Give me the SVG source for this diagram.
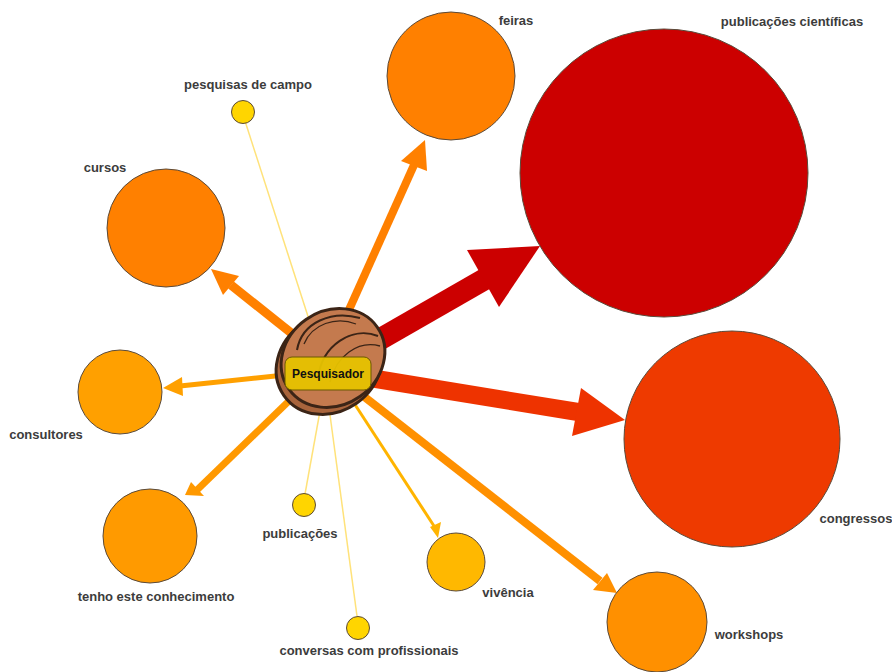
<svg xmlns="http://www.w3.org/2000/svg" width="892" height="672" viewBox="0 0 892 672">
  <style>
    .lbl { font-family: "Liberation Sans", Arial, sans-serif; font-size: 13px; font-weight: bold; fill: #3c3c3c; text-anchor: middle; }
    .node { stroke: #5a4a3a; stroke-width: 1; }
    .thin { stroke: #FFE27A; stroke-width: 1.5; fill: none; }
    .nut { fill: none; stroke: #3B2416; }
  </style>
  <rect width="892" height="672" fill="#ffffff"/>

  <!-- connectors: shafts plus arrowheads -->
  <g id="connectors" stroke-linecap="butt">
    <line class="thin" x1="245" y1="121" x2="314" y2="335"/>
    <line class="thin" x1="322" y1="400" x2="305" y2="494"/>
    <line class="thin" x1="328" y1="400" x2="357" y2="616"/>

    <line x1="370" y1="345" x2="485" y2="279" stroke="#CC0000" stroke-width="22"/>
    <polygon points="540,246 467,250 499,307" fill="#CC0000"/>

    <line x1="370" y1="378" x2="578" y2="412" stroke="#EE3300" stroke-width="18"/>
    <polygon points="625,420 581,388 572,436" fill="#EE3300"/>

    <line x1="348" y1="312" x2="414" y2="165" stroke="#FF8000" stroke-width="8"/>
    <polygon points="425,140 401,161 427,171" fill="#FF8000"/>

    <line x1="300" y1="340" x2="231" y2="285" stroke="#FF8000" stroke-width="9"/>
    <polygon points="211,269 239,276 223,295" fill="#FF8000"/>

    <line x1="285" y1="375" x2="180" y2="386" stroke="#FFA000" stroke-width="5"/>
    <polygon points="163,388 182,377 183,396" fill="#FFA000"/>

    <line x1="292" y1="398" x2="197" y2="490" stroke="#FF9900" stroke-width="7"/>
    <polygon points="185,495 191,482 204,496" fill="#FF9900"/>

    <line x1="352" y1="400" x2="434" y2="526" stroke="#FFB400" stroke-width="3"/>
    <polygon points="438,538 430,527 441,522" fill="#FFB400"/>

    <line x1="362" y1="395" x2="600" y2="581" stroke="#FF9000" stroke-width="8"/>
    <polygon points="617,593 593,590 607,573" fill="#FF9000"/>
  </g>

  <!-- topic nodes -->
  <g id="feiras">
    <circle class="node" cx="451" cy="76" r="64" fill="#FF8000"/>
    <text class="lbl" x="516" y="25">feiras</text>
  </g>
  <g id="publicacoes-cientificas">
    <circle class="node" cx="664" cy="173" r="144" fill="#CC0000"/>
    <text class="lbl" x="792" y="26">publicações científicas</text>
  </g>
  <g id="cursos">
    <circle class="node" cx="166" cy="228" r="59" fill="#FF8000"/>
    <text class="lbl" x="105" y="172">cursos</text>
  </g>
  <g id="pesquisas-de-campo">
    <circle class="node" cx="243" cy="112" r="11.5" fill="#FFD500"/>
    <text class="lbl" x="248" y="89">pesquisas de campo</text>
  </g>
  <g id="consultores">
    <circle class="node" cx="120" cy="392" r="42" fill="#FFA000"/>
    <text class="lbl" x="46" y="439">consultores</text>
  </g>
  <g id="tenho-este-conhecimento">
    <circle class="node" cx="150" cy="536" r="47" fill="#FF9A00"/>
    <text class="lbl" x="156" y="601">tenho este conhecimento</text>
  </g>
  <g id="publicacoes">
    <circle class="node" cx="304" cy="505" r="11.5" fill="#FFD500"/>
    <text class="lbl" x="300" y="538">publicações</text>
  </g>
  <g id="conversas-com-profissionais">
    <circle class="node" cx="358" cy="628" r="11.5" fill="#FFD500"/>
    <text class="lbl" x="369" y="655">conversas com profissionais</text>
  </g>
  <g id="vivencia">
    <circle class="node" cx="456" cy="562" r="29" fill="#FFB800"/>
    <text class="lbl" x="508" y="597">vivência</text>
  </g>
  <g id="workshops">
    <circle class="node" cx="657" cy="622" r="50" fill="#FF9000"/>
    <text class="lbl" x="749" y="639">workshops</text>
  </g>
  <g id="congressos">
    <circle class="node" cx="732" cy="439" r="108" fill="#EE3A00"/>
    <text class="lbl" x="856" y="523">congressos</text>
  </g>

  <!-- central node: nut with label -->
  <g id="pesquisador">
    <ellipse cx="329" cy="364" rx="55" ry="48" transform="rotate(-35 329 364)" fill="#A9643C" stroke="#3B2416" stroke-width="3"/>
    <ellipse cx="333" cy="358" rx="54" ry="47" transform="rotate(-35 333 358)" fill="#C47A4E" stroke="#3B2416" stroke-width="3"/>
    <path class="nut" d="M297,350 C302,322 332,310 360,318" stroke-width="2"/>
    <path class="nut" d="M304,344 C312,324 336,316 356,324" stroke-width="1.3"/>
    <path class="nut" d="M318,378 C322,345 352,326 378,336" stroke-width="2"/>
    <path class="nut" d="M330,382 C336,356 358,340 380,346" stroke-width="1.3"/>
    <rect x="285" y="357" width="86" height="33" rx="7" fill="#E6C200" fill-opacity="0.95" stroke="#6B5800" stroke-width="1"/>
    <text x="328" y="378" font-family="Liberation Sans, Arial, sans-serif" font-size="12px" font-weight="bold" fill="#111" text-anchor="middle">Pesquisador</text>
  </g>
</svg>
